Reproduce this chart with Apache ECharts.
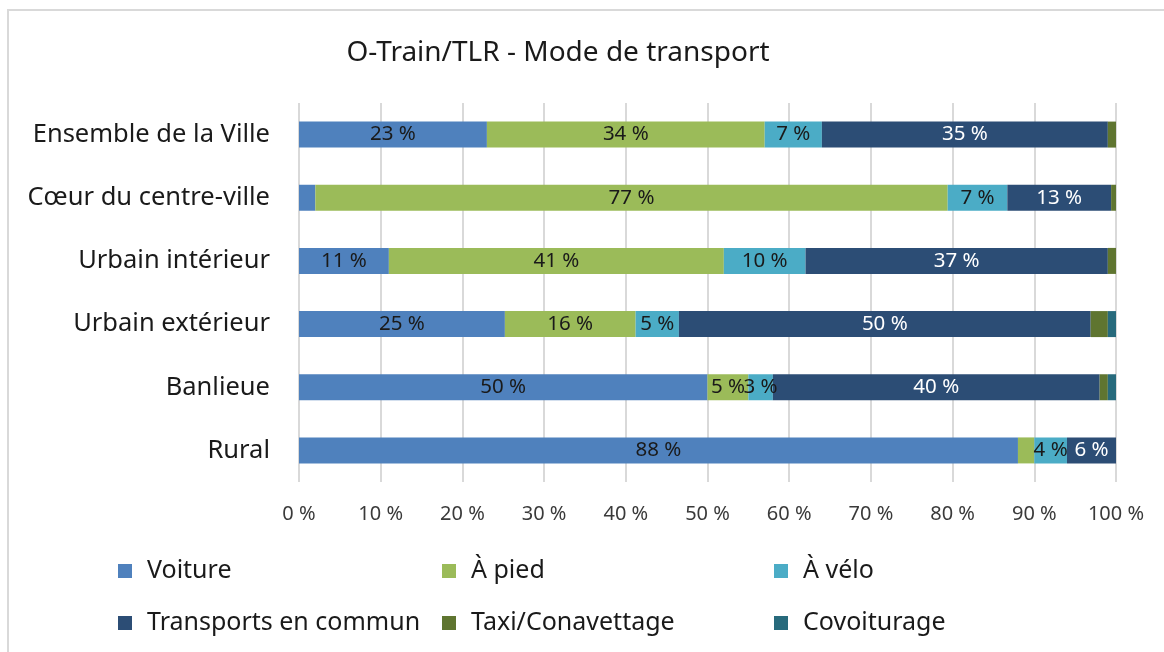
<!DOCTYPE html>
<html>
<head>
<meta charset="utf-8">
<title>O-Train/TLR - Mode de transport</title>
<script src="https://cdn.jsdelivr.net/npm/echarts@6/dist/echarts.min.js"></script>
<style>
    html, body { margin: 0; padding: 0; background: #fff; }
    #main { width: 1164px; height: 652px; }
</style>
</head>
<body>
<div id="main"></div>
<script>
    // categories, top to bottom
    const categories = ['Ensemble de la Ville', 'Cœur du centre-ville', 'Urbain intérieur', 'Urbain extérieur', 'Banlieue', 'Rural'];

    // parts in % per category
    const voiture = [23, 2, 11, 25.2, 50, 88];
    const aPied = [34, 77.4, 41, 16, 5, 2];
    const aVelo = [7, 7.3, 10, 5.3, 3, 4];
    const transports = [35, 12.7, 37, 50.4, 40, 6];
    const taxi = [1, 0.6, 1, 2.1, 1, 0];
    const covoiturage = [0, 0, 0, 1, 1, 0];

    const seriesNames = ['Voiture', 'À pied', 'À vélo', 'Transports en commun', 'Taxi/Conavettage', 'Covoiturage'];
    const seriesColors = ['#4F81BD', '#9BBB59', '#4BACC6', '#2C4D75', '#5F7530', '#276A7C'];
    const labelColors = ['#1a1a1a', '#1a1a1a', '#1a1a1a', '#ffffff', '#1a1a1a', '#1a1a1a'];
    const seriesValues = [voiture, aPied, aVelo, transports, taxi, covoiturage];

    const FONT = 'Noto Sans';

    const chart = echarts.init(document.getElementById('main'));

    const series = seriesNames.map((name, i) => ({
        name: name,
        type: 'bar',
        stack: 'total',
        barWidth: 26,
        data: seriesValues[i],
        itemStyle: { color: seriesColors[i] },
        label: {
            show: i < 4, // taxi / covoiturage never labelled
            position: 'inside',
            color: labelColors[i],
            fontFamily: FONT,
            fontSize: 20.5,
            // small slices get no label, like the original
            formatter: (p) => p.value >= 3 ? Math.round(p.value) + ' %' : ''
        },
        labelLayout: { hideOverlap: false }
    }));

    // one legend per column so the columns line up
    const legendCol = (names, left) => ({
        data: names,
        orient: 'vertical',
        left: left,
        top: 556,
        padding: 0,
        itemGap: 22,
        itemWidth: 14,
        itemHeight: 14,
        icon: 'rect',
        selectedMode: false,
        textStyle: {
            fontFamily: FONT,
            fontSize: 25,
            lineHeight: 30,
            color: '#1a1a1a',
            padding: [0, 0, 0, 10]
        }
    });

    const option = {
        animation: false,
        textStyle: { fontFamily: FONT },
        title: {
            text: 'O-Train/TLR - Mode de transport',
            left: 553,
            top: 34,
            textAlign: 'center',
            textStyle: { fontFamily: FONT, fontSize: 28, fontWeight: 'normal', color: '#1a1a1a' }
        },
        graphic: [{
            type: 'rect',
            shape: { x: 8, y: 10, width: 1300, height: 800 },
            style: { fill: 'none', stroke: '#d9d9d9', lineWidth: 2 },
            silent: true
        }],
        legend: [
            legendCol(['Voiture', 'Transports en commun'], 118),
            legendCol(['À pied', 'Taxi/Conavettage'], 442),
            legendCol(['À vélo', 'Covoiturage'], 774)
        ],
        grid: { left: 299, right: 48, top: 103, bottom: 170, containLabel: false },
        xAxis: {
            type: 'value',
            min: 0,
            max: 100,
            interval: 10,
            axisLine: { show: false },
            axisTick: { show: false },
            splitLine: { show: true, lineStyle: { color: '#d9d9d9', width: 2 } },
            axisLabel: {
                formatter: '{value} %',
                fontFamily: FONT,
                fontSize: 20,
                color: '#3a3a3a',
                margin: 22
            }
        },
        yAxis: {
            type: 'category',
            data: categories,
            inverse: true,
            axisLine: { show: false },
            axisTick: { show: false },
            splitLine: { show: false },
            axisLabel: {
                fontFamily: FONT,
                fontSize: 25.5,
                color: '#1a1a1a',
                margin: 29
            }
        },
        series: series
    };

    chart.setOption(option);
</script>
</body>
</html>
